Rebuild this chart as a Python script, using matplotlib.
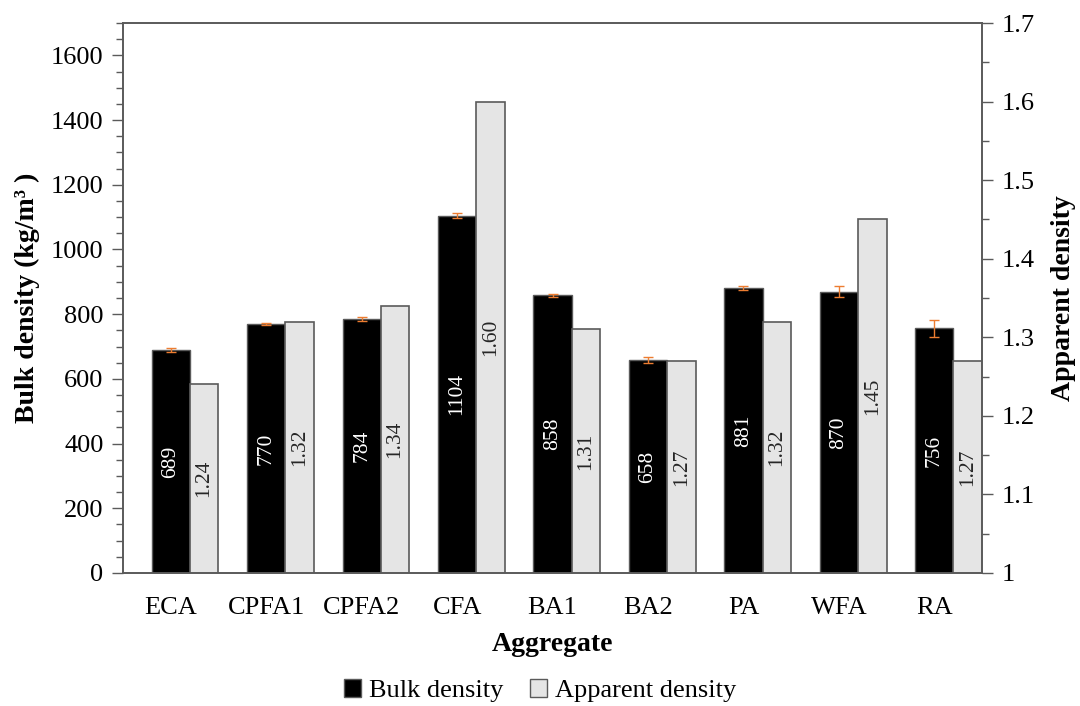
import numpy as np
import matplotlib
matplotlib.use("Agg")
import matplotlib.pyplot as plt
from matplotlib.patches import Patch
from matplotlib.ticker import MultipleLocator

plt.rcParams["font.family"] = ["Liberation Serif", "DejaVu Serif"]

# data
aggregates = ["ECA", "CPFA1", "CPFA2", "CFA", "BA1", "BA2", "PA", "WFA", "RA"]
bulk_density = [689, 770, 784, 1104, 858, 658, 881, 870, 756]
bulk_err = [5, 3, 6, 8, 5, 9, 5, 16, 25]
apparent_density = [1.24, 1.32, 1.34, 1.60, 1.31, 1.27, 1.32, 1.45, 1.27]

x = np.arange(len(aggregates))

fig = plt.figure(figsize=(10.8, 7.06), dpi=100)
ax = fig.add_axes([0.1139, 0.1884, 0.9093 - 0.1139, 0.9674 - 0.1884])
ax2 = ax.twinx()

edge = "#5a5a5a"
ax.bar(x, bulk_density, width=0.4, color="black", edgecolor=edge, linewidth=1.0,
       zorder=2)
ax.errorbar(x, bulk_density, yerr=bulk_err, fmt="none", ecolor="#ED7D31",
            elinewidth=1.0, capsize=3.5, capthick=1.0, zorder=3)
ax2.bar(x + 0.2, np.array(apparent_density) - 1, bottom=1, width=0.3, align="edge",
        color="#E5E5E5", edgecolor=edge, linewidth=1.2, zorder=2)

for xi, v in zip(x, bulk_density):
    ax.text(xi, v / 2, f"{v}", rotation=90, ha="center", va="center",
            color="white", fontsize=15.5, zorder=4)
for xi, v in zip(x, apparent_density):
    ax2.text(xi + 0.35, 1 + (v - 1) / 2, f"{v:.2f}", rotation=90, ha="center",
             va="center", color="#262626", fontsize=15.5, zorder=4)

ax.set_xlim(-0.5, len(aggregates) - 0.5)
ax.set_ylim(0, 1700)
ax2.set_ylim(1, 1.7)
ax.yaxis.set_major_locator(MultipleLocator(200))
ax.yaxis.set_minor_locator(MultipleLocator(50))
ax2.yaxis.set_minor_locator(MultipleLocator(0.05))
ax2.set_yticks(np.arange(1, 1.71, 0.1))
ax2.set_yticklabels(["1", "1.1", "1.2", "1.3", "1.4", "1.5", "1.6", "1.7"])

ax.set_xticks(x)
ax.set_xticklabels(aggregates)
ax.tick_params(axis="x", length=0, labelsize=19, pad=17)
ax.tick_params(axis="y", which="major", length=8, width=1, color=edge,
               labelsize=19, pad=6)
ax.tick_params(axis="y", which="minor", length=5, width=1, color=edge)
ax2.tick_params(axis="y", which="major", length=8, width=1, color=edge,
                labelsize=19, pad=6)
ax2.tick_params(axis="y", which="minor", length=5, width=1, color=edge)

for a in (ax, ax2):
    for s in a.spines.values():
        s.set_color(edge)
        s.set_linewidth(1.2)

ax.set_xlabel("Aggregate", fontsize=20, fontweight="bold", labelpad=10)
ax.set_ylabel("Bulk density (kg/m³ )", fontsize=20, fontweight="bold", labelpad=8)
ax2.set_ylabel("Apparent density", fontsize=20, fontweight="bold", labelpad=12)

handles = [Patch(facecolor="black", edgecolor=edge, label="Bulk density"),
           Patch(facecolor="#E5E5E5", edgecolor=edge, label="Apparent density")]
fig.legend(handles=handles, loc="center", bbox_to_anchor=(0.5, 0.022), ncol=2,
           frameon=False, fontsize=19, handlelength=0.65, handleheight=0.65,
           handletextpad=0.3, columnspacing=1.0)

fig.savefig("out.png", dpi=100)
